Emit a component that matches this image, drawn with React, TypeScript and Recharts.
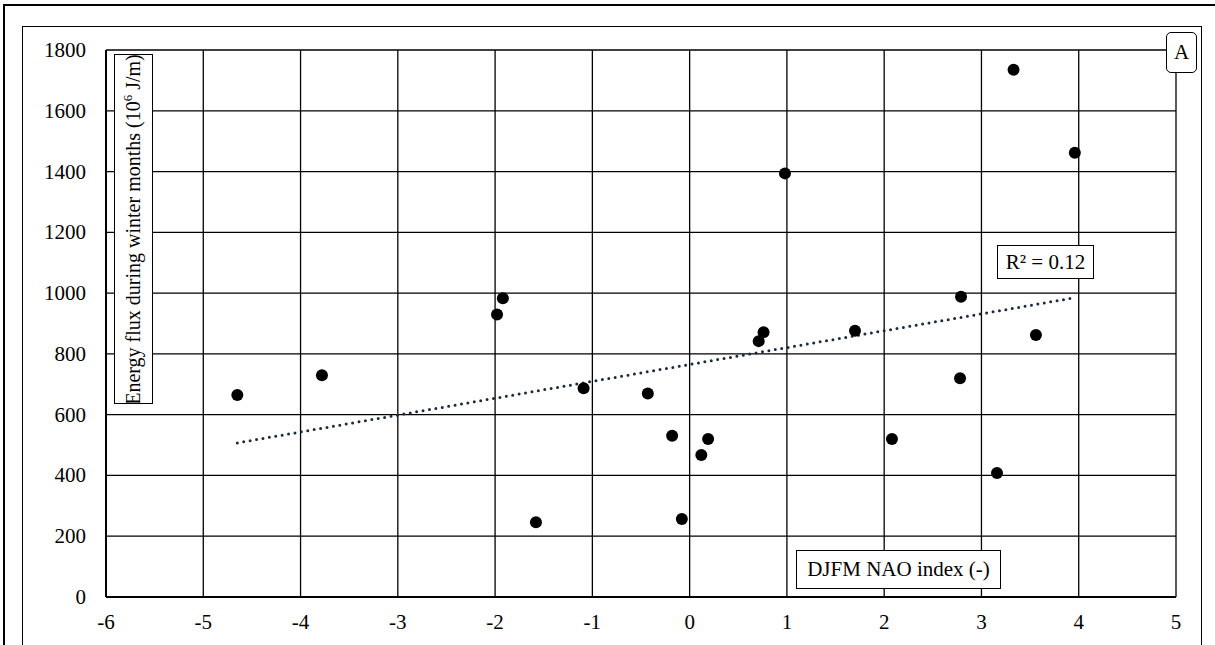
import React from 'react';
import { ScatterChart, Scatter, XAxis, YAxis, CartesianGrid } from 'recharts';

const naoIndex = [-4.65, -3.78, -1.98, -1.92, -1.58, -1.09, -0.43, -0.18, -0.08, 0.12, 0.19, 0.71, 0.76, 0.98, 1.70, 2.08, 2.78, 2.79, 3.16, 3.33, 3.56, 3.96];
const energyFlux = [665, 730, 930, 983, 246, 687, 670, 531, 257, 467, 520, 842, 871, 1394, 876, 520, 720, 988, 408, 1735, 862, 1462];
const trendX = [-4.65, 3.96];
const trendY = [507, 985];
const xTicks = [-6, -5, -4, -3, -2, -1, 0, 1, 2, 3, 4, 5];
const yTicks = [0, 200, 400, 600, 800, 1000, 1200, 1400, 1600, 1800];

const points = naoIndex.map((x, i) => ({ x, y: energyFlux[i] }));
const trend = trendX.map((x, i) => ({ x, y: trendY[i] }));

const FONT = '"Liberation Serif", "Times New Roman", serif';

const XTick = (props: any) => (
  <text x={props.x} y={props.y} dy={14} textAnchor="middle" fill="#000" fontFamily="Liberation Serif" fontSize={21} fontWeight={400}>
    {props.payload.value}
  </text>
);
const YTick = (props: any) => (
  <text x={props.x} y={props.y} dy={7} textAnchor="end" fill="#000" fontFamily="Liberation Serif" fontSize={21} fontWeight={400}>
    {props.payload.value}
  </text>
);

const Dot = (props: any) => <circle cx={props.cx} cy={props.cy} r={6} fill="#000" />;
const NoDot = () => null;

const boxBase: React.CSSProperties = {
  position: 'absolute',
  background: '#fff',
  border: '1.5px solid #000',
  boxSizing: 'border-box',
  fontFamily: FONT,
  fontSize: 21,
  color: '#000',
  display: 'flex',
  alignItems: 'center',
  justifyContent: 'center',
  whiteSpace: 'nowrap',
};

export default function App() {
  return (
    <div style={{ position: 'fixed', left: 0, top: 0, width: 1215, height: 645, overflow: 'hidden', background: '#fff', fontFamily: FONT }}>
      <div style={{ position: 'absolute', left: 3, top: 4, width: 1260, height: 700, border: '2px solid #000', boxSizing: 'border-box' }} />
      <div style={{ position: 'absolute', left: 22, top: 26, width: 1180, height: 700, border: '1.5px solid #000', boxSizing: 'border-box' }} />
      <div style={{ position: 'absolute', left: 0, top: 0 }}>
        <ScatterChart width={1215} height={645} margin={{ top: 50, right: 39, bottom: 0, left: 0 }}>
          <CartesianGrid stroke="#000" strokeWidth={1.3} />
          <XAxis
            type="number"
            dataKey="x"
            domain={[-6, 5]}
            ticks={xTicks}
            interval={0}
            height={48}
            tickLine={false}
            tickSize={0}
            tickMargin={18}
            axisLine={{ stroke: '#000', strokeWidth: 2 }}
            tick={<XTick />}
            allowDataOverflow
          />
          <YAxis
            type="number"
            dataKey="y"
            domain={[0, 1800]}
            ticks={yTicks}
            interval={0}
            width={106}
            tickLine={false}
            tickSize={0}
            tickMargin={20}
            axisLine={{ stroke: '#000', strokeWidth: 2 }}
            tick={<YTick />}
            allowDataOverflow
          />
          <Scatter
            data={trend}
            shape={NoDot}
            line={{ stroke: '#1b2a41', strokeWidth: 3, strokeDasharray: '0 6.5', strokeLinecap: 'round' }}
            isAnimationActive={false}
          />
          <Scatter data={points} shape={Dot} isAnimationActive={false} />
        </ScatterChart>
      </div>
      <div style={{ ...boxBase, left: 114, top: 54, width: 39, height: 350 }}>
        <span style={{ display: 'inline-block', transform: 'rotate(-90deg)', whiteSpace: 'nowrap', fontSize: 20 }}>
          Energy flux during winter months (10<sup style={{ fontSize: 13, verticalAlign: 'super', lineHeight: 0 }}>6</sup> J/m)
        </span>
      </div>
      <div style={{ ...boxBase, left: 997, top: 245, width: 97, height: 34, border: '1px solid #000' }}>
        R² = 0.12
      </div>
      <div style={{ ...boxBase, left: 796, top: 550, width: 205, height: 39, border: '1px solid #000' }}>
        DJFM NAO index (-)
      </div>
      <div style={{ ...boxBase, left: 1166, top: 32, width: 31, height: 41, borderRadius: 5 }}>
        A
      </div>
    </div>
  );
}
